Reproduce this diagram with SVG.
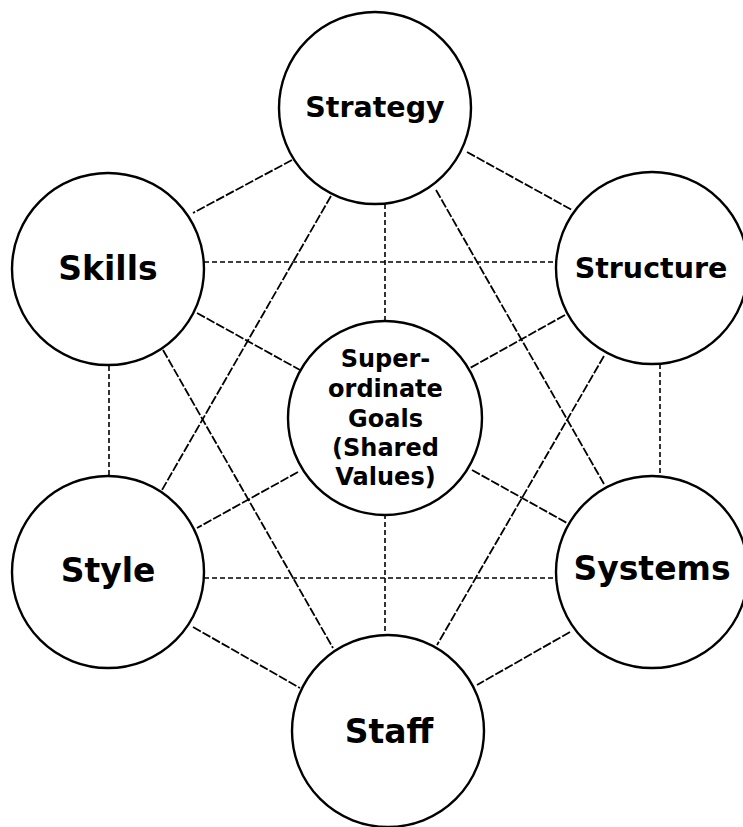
<svg xmlns="http://www.w3.org/2000/svg" width="743" height="827" viewBox="0 0 743 827">
<style>
.c{fill:#fff;stroke:#000;stroke-width:2.4}
.l{stroke:#000;stroke-width:1.8;fill:none;stroke-dasharray:9,2}
.d{stroke:#000;stroke-width:1.6;fill:none;stroke-dasharray:5,3}
text{font-family:"DejaVu Sans",sans-serif;font-weight:bold;text-anchor:middle;fill:#000}
.big{font-size:33px}
.mid{font-size:28.5px}
.sm{font-size:24px}
</style>
<rect width="743" height="827" fill="#fff"/>
<g id="connectors">
<line class="l" x1="292" y1="160" x2="193" y2="213"/>
<line class="l" x1="467" y1="152" x2="572" y2="210"/>
<line class="d" x1="385" y1="204" x2="385" y2="323"/>
<line class="l" x1="331" y1="196" x2="162" y2="490"/>
<line class="l" x1="436" y1="190" x2="604" y2="484"/>
<line class="d" x1="204" y1="262" x2="556" y2="262"/>
<line class="l" x1="197" y1="313" x2="300" y2="370"/>
<line class="d" x1="109" y1="366" x2="109" y2="476"/>
<line class="l" x1="163" y1="350" x2="333" y2="648"/>
<line class="l" x1="565" y1="315" x2="470" y2="368"/>
<line class="l" x1="604" y1="356" x2="437" y2="645"/>
<line class="d" x1="660" y1="364" x2="660" y2="476"/>
<line class="l" x1="298" y1="472" x2="197" y2="528"/>
<line class="l" x1="472" y1="470" x2="567" y2="523"/>
<line class="d" x1="385" y1="514" x2="385" y2="635"/>
<line class="d" x1="204" y1="578" x2="556" y2="578"/>
<line class="l" x1="193" y1="627" x2="300" y2="688"/>
<line class="l" x1="570" y1="632" x2="477" y2="685"/>
</g>
<g id="strategy"><circle class="c" cx="375" cy="108" r="96"/><text class="mid" x="375" y="117">Strategy</text></g>
<g id="skills"><circle class="c" cx="108" cy="269" r="96"/><text class="big" x="108" y="280">Skills</text></g>
<g id="structure"><circle class="c" cx="652" cy="268" r="96"/><text class="mid" x="651" y="278">Structure</text></g>
<g id="shared-values"><circle class="c" cx="385" cy="418" r="97"/>
<text class="sm" x="385.5" y="367">Super-</text>
<text class="sm" x="385.5" y="397">ordinate</text>
<text class="sm" x="385.5" y="427">Goals</text>
<text class="sm" x="385.5" y="456">(Shared</text>
<text class="sm" x="385.5" y="485">Values)</text>
</g>
<g id="style"><circle class="c" cx="108" cy="572" r="96"/><text class="big" x="108" y="582">Style</text></g>
<g id="systems"><circle class="c" cx="652" cy="572" r="96"/><text class="big" x="652" y="580">Systems</text></g>
<g id="staff"><circle class="c" cx="388" cy="731" r="96"/><text class="big" x="389" y="743">Staff</text></g>
</svg>
